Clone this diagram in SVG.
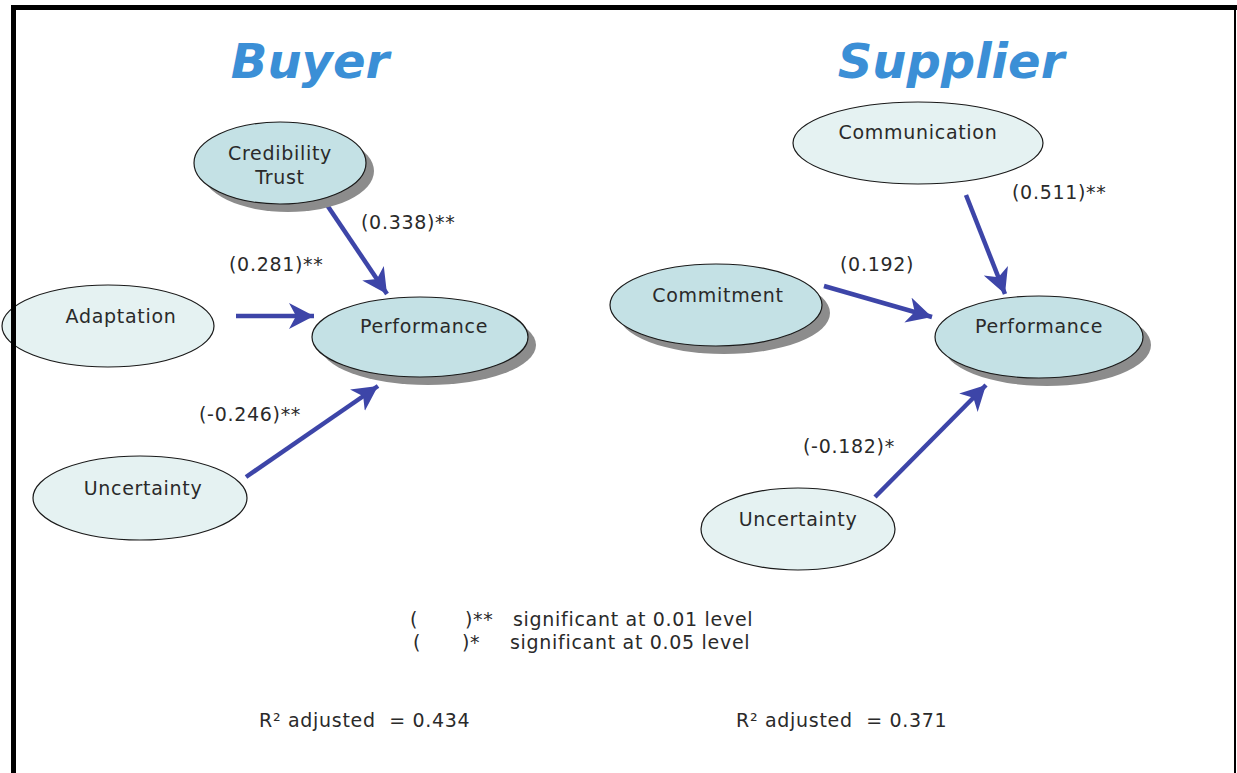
<svg xmlns="http://www.w3.org/2000/svg" width="1237" height="773" viewBox="0 0 1237 773">
<style>
.t{font-family:"DejaVu Sans",Verdana,sans-serif;font-size:19px;fill:#2a2a2a;letter-spacing:0.7px;white-space:pre}
.c{text-anchor:middle}
.title{font-family:"DejaVu Sans",Verdana,sans-serif;font-size:48px;font-weight:bold;font-style:italic;fill:#3b8fd6;text-anchor:middle}
.dark{fill:#c4e1e5;stroke:#1a1a1a;stroke-width:1.2}
.light{fill:#e5f2f2;stroke:#1a1a1a;stroke-width:1.2}
.sh{fill:#8c8c8c}
.arr{stroke:#3d45a8;stroke-width:4.5;fill:none;marker-end:url(#ah)}
</style>
<defs>
<marker id="ah" markerUnits="userSpaceOnUse" markerWidth="30" markerHeight="28" refX="25" refY="13" orient="auto">
<path d="M0,0 L25,13 L0,26 L7,13 z" fill="#3d45a8"/>
</marker>
</defs>
<rect width="1237" height="773" fill="#fff"/>
<text class="title" x="310" y="78">Buyer</text>
<text class="title" x="951" y="78">Supplier</text>

<g id="connectors">
<line class="arr" x1="327" y1="205" x2="387" y2="294"/>
<line class="arr" x1="236" y1="316" x2="314" y2="316"/>
<line class="arr" x1="246" y1="477" x2="378" y2="386"/>
<line class="arr" x1="966" y1="195" x2="1005" y2="294"/>
<line class="arr" x1="824" y1="286" x2="932" y2="317"/>
<line class="arr" x1="875" y1="497" x2="986" y2="385"/>
</g>

<g id="credibility">
<ellipse class="sh" cx="288" cy="171" rx="86" ry="41"/>
<ellipse class="dark" cx="280" cy="163" rx="86" ry="41"/>
<text class="t c" x="280" y="160">Credibility</text>
<text class="t c" x="280" y="184">Trust</text>
</g>
<g id="adaptation">
<ellipse class="light" cx="108" cy="326" rx="106" ry="41"/>
<text class="t c" x="121" y="323">Adaptation</text>
</g>
<g id="performance-buyer">
<ellipse class="sh" cx="428" cy="345" rx="108" ry="40"/>
<ellipse class="dark" cx="420" cy="337" rx="108" ry="40"/>
<text class="t c" x="424" y="333">Performance</text>
</g>
<g id="uncertainty-buyer">
<ellipse class="light" cx="140" cy="498" rx="107" ry="42"/>
<text class="t c" x="143" y="495">Uncertainty</text>
</g>
<g id="communication">
<ellipse class="light" cx="918" cy="143" rx="125" ry="41"/>
<text class="t c" x="918" y="139">Communication</text>
</g>
<g id="commitment">
<ellipse class="sh" cx="724" cy="313" rx="106" ry="41"/>
<ellipse class="dark" cx="716" cy="305" rx="106" ry="41"/>
<text class="t c" x="718" y="302">Commitment</text>
</g>
<g id="performance-supplier">
<ellipse class="sh" cx="1047" cy="345" rx="104" ry="41"/>
<ellipse class="dark" cx="1039" cy="337" rx="104" ry="41"/>
<text class="t c" x="1039" y="333">Performance</text>
</g>
<g id="uncertainty-supplier">
<ellipse class="light" cx="798" cy="529" rx="97" ry="41"/>
<text class="t c" x="798" y="526">Uncertainty</text>
</g>

<g id="labels">
<text class="t" x="361" y="229">(0.338)**</text>
<text class="t" x="229" y="271">(0.281)**</text>
<text class="t" x="199" y="421">(-0.246)**</text>
<text class="t" x="1012" y="199">(0.511)**</text>
<text class="t" x="840" y="271">(0.192)</text>
<text class="t" x="803" y="453">(-0.182)*</text>
</g>
<g id="legend">
<text class="t" x="410" y="626">(</text>
<text class="t" x="465" y="626">)**</text>
<text class="t" x="513" y="626">significant at 0.01 level</text>
<text class="t" x="413" y="649">(</text>
<text class="t" x="462" y="649">)*</text>
<text class="t" x="510" y="649">significant at 0.05 level</text>
<text class="t" x="259" y="727" xml:space="preserve">R² adjusted  = 0.434</text>
<text class="t" x="736" y="727" xml:space="preserve">R² adjusted  = 0.371</text>
</g>
<g id="frame">
<rect x="11" y="5" width="1226" height="5" fill="#000"/>
<rect x="11" y="5" width="5" height="768" fill="#000"/>
<rect x="1234" y="5" width="2" height="768" fill="#000"/>
</g>
</svg>
